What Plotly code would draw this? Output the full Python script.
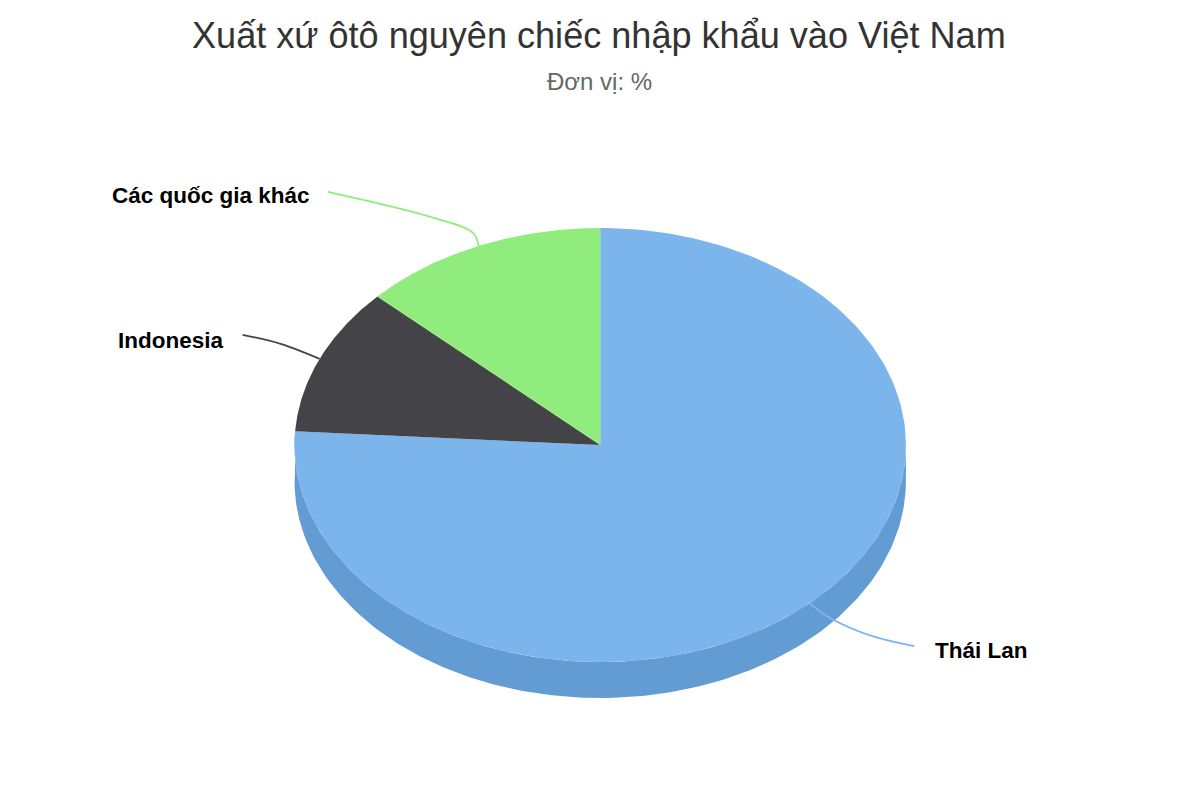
import numpy as np
import plotly.graph_objects as go

categories = ["Thái Lan", "Indonesia", "Các quốc gia khác"]
values = [76, 11, 13]
colors = ["#7cb5ec", "#434348", "#90ed7d"]
side_color = "#639bd3"

title = "Xuất xứ ôtô nguyên chiếc nhập khẩu vào Việt Nam"
subtitle = "Đơn vị: %"

# layout of the tilted pie, in page pixels
CX, CY = 600.2, 445
RX, RY = 305.7, 217
DEPTH = 36

# connector bends and label anchors, relative to the slice's rim midpoint
elbows = [[(23, 16), (63, 33), (105, 43)],
          [(-39, -15), (-77, -24)],
          [(-6, -13), (-45, -28), (-151, -54)]]
label_offsets = [(124, 47), (-94, -18.5), (-167, -50)]
label_anchor = ["left", "right", "right"]


def rim(t, dy=0):
    # t in degrees, clockwise from 12 o'clock
    a = np.radians(t)
    return CX + RX * np.sin(a), CY - RY * np.cos(a) + dy


fig = go.Figure()

angles = np.cumsum([0] + values) / sum(values) * 360

# side wall, only the front part can be seen
t = np.linspace(angles[0], angles[1], 300)
t = t[(t >= 90)]
x_top, y_top = rim(t)
x_bot, y_bot = rim(t[::-1], DEPTH)
fig.add_trace(go.Scatter(x=np.r_[x_top, x_bot], y=np.r_[y_top, y_bot],
                         fill="toself", fillcolor=side_color, mode="lines",
                         line=dict(width=0), hoverinfo="skip"))

for i, name in enumerate(categories):
    t = np.linspace(angles[i], angles[i + 1], 200)
    x, y = rim(t)
    fig.add_trace(go.Scatter(x=np.r_[CX, x, CX], y=np.r_[CY, y, CY],
                             fill="toself", fillcolor=colors[i], mode="lines",
                             line=dict(width=0), name=name,
                             text=f"{name}: {values[i]}%", hoverinfo="text"))

for i, name in enumerate(categories):
    mx, my = rim((angles[i] + angles[i + 1]) / 2)
    xs = [mx] + [mx + e[0] for e in elbows[i]]
    ys = [my] + [my + e[1] for e in elbows[i]]
    fig.add_trace(go.Scatter(x=xs, y=ys, mode="lines", hoverinfo="skip",
                             line=dict(color=colors[i], width=1.8,
                                       shape="spline", smoothing=1)))
    fig.add_annotation(x=mx + label_offsets[i][0], y=my + label_offsets[i][1],
                       text=f"<b>{name}</b>", showarrow=False,
                       xanchor=label_anchor[i], yanchor="middle",
                       font=dict(size=22.5, color="#000000"))

fig.add_annotation(x=599, y=35, text=title, showarrow=False,
                   font=dict(size=36.1, color="#333333"))
fig.add_annotation(x=599, y=81, text=subtitle, showarrow=False,
                   font=dict(size=24, color="#666666"))

# the page body has an 8px margin, so the plot is 1184x784 and starts at 8
fig.update_xaxes(range=[8, 1192], visible=False)
fig.update_yaxes(range=[792, 8], visible=False)
fig.update_layout(width=1184, height=784, showlegend=False,
                  margin=dict(l=0, r=0, t=0, b=0),
                  paper_bgcolor="white", plot_bgcolor="white",
                  font=dict(family="Liberation Sans, Arial, sans-serif"))

fig.write_html("out.html")
